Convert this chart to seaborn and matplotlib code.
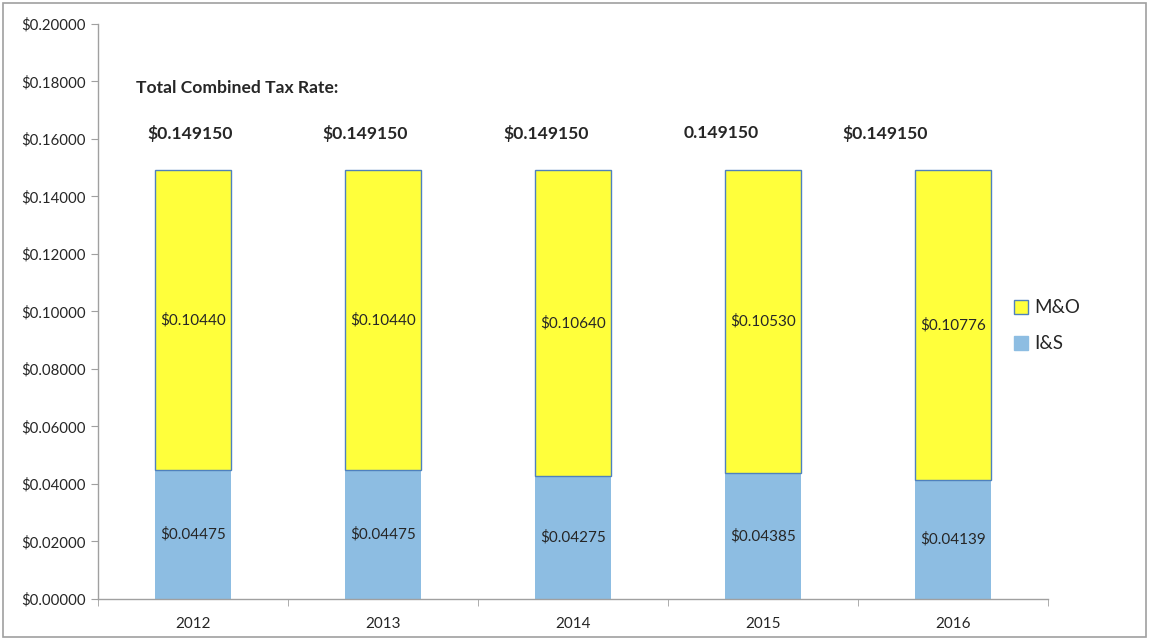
import matplotlib
matplotlib.use("Agg")
import matplotlib.pyplot as plt
import seaborn as sns
import pandas as pd
from matplotlib.patches import Patch, Rectangle
from matplotlib.ticker import FuncFormatter, MultipleLocator

years = ["2012", "2013", "2014", "2015", "2016"]
is_rates = [0.04475, 0.04475, 0.04275, 0.04385, 0.04139]
mo_rates = [0.10440, 0.10440, 0.10640, 0.10530, 0.10776]
total_labels = ["$0.149150", "$0.149150", "$0.149150", "0.149150", "$0.149150"]

yellow = "#FFFF3B"
blue = "#8DBDE2"
edge = "#4F81BD"

sns.set_style("white")
plt.rcParams["font.family"] = ["Lato", "DejaVu Sans"]

df = pd.DataFrame({"year": years, "is": is_rates, "mo": mo_rates})

fig = plt.figure(figsize=(11.49, 6.4), dpi=100)
ax = fig.add_axes([0.0853, 0.0641, 0.8267, 0.8984])

sns.barplot(data=df, x="year", y="is", color=blue, saturation=1, width=0.4,
            linewidth=0, ax=ax)
sns.barplot(data=df, x="year", y="mo", color=yellow, saturation=1, width=0.4,
            bottom=df["is"].values, edgecolor=edge, linewidth=1, ax=ax)

# value labels inside the bars
for i in range(len(years)):
    ax.text(i, is_rates[i] / 2, f"${is_rates[i]:.5f}", ha="center", va="center", fontsize=11)
    ax.text(i, is_rates[i] + mo_rates[i] / 2, f"${mo_rates[i]:.5f}", ha="center", va="center", fontsize=11)

# total labels sit a bit left of the bars, like the original text boxes
total_x = [-0.242, 0.679, 1.632, 2.584, 3.421]
for x, lab in zip(total_x, total_labels):
    ax.text(x, 0.162, lab, ha="left", va="center", fontsize=12.6, fontweight="bold")

ax.text(-0.3, 0.1777, "Total Combined Tax Rate:", ha="left", va="center", fontsize=12.6, fontweight="bold")

ax.set_ylim(0, 0.2)
ax.set_xlim(-0.5, 4.5)
ax.yaxis.set_major_locator(MultipleLocator(0.02))
ax.yaxis.set_major_formatter(FuncFormatter(lambda v, p: f"${v:.5f}"))
ax.set_xlabel("")
ax.set_ylabel("")

# excel style ticks between categories
ax.set_xticks(range(len(years)))
ax.set_xticklabels(years)
ax.set_xticks([k + 0.5 for k in range(-1, 5)], minor=True)
ax.tick_params(axis="x", which="major", length=0, labelsize=11, pad=13)
ax.tick_params(axis="x", which="minor", length=5, direction="out", color="#A0A0A0", bottom=True)
ax.tick_params(axis="y", length=5, direction="out", color="#A0A0A0", labelsize=10.8, left=True)

sns.despine(ax=ax)
for s in ["left", "bottom"]:
    ax.spines[s].set_color("#A0A0A0")
    ax.spines[s].set_linewidth(1)

handles = [Patch(facecolor=yellow, edgecolor=edge, label="M&O"),
           Patch(facecolor=blue, edgecolor=blue, label="I&S")]
ax.legend(handles=handles, loc="center left", bbox_to_anchor=(0.947, 0.475), frameon=False,
          fontsize=13.5, handlelength=0.75, handleheight=0.75, handletextpad=0.3, labelspacing=1.0)

fig.patches.append(Rectangle((0.003, 0.005), 0.994, 0.99, transform=fig.transFigure,
                             fill=False, edgecolor="#A0A0A0", linewidth=1.2))

fig.savefig("out.png", dpi=100)
